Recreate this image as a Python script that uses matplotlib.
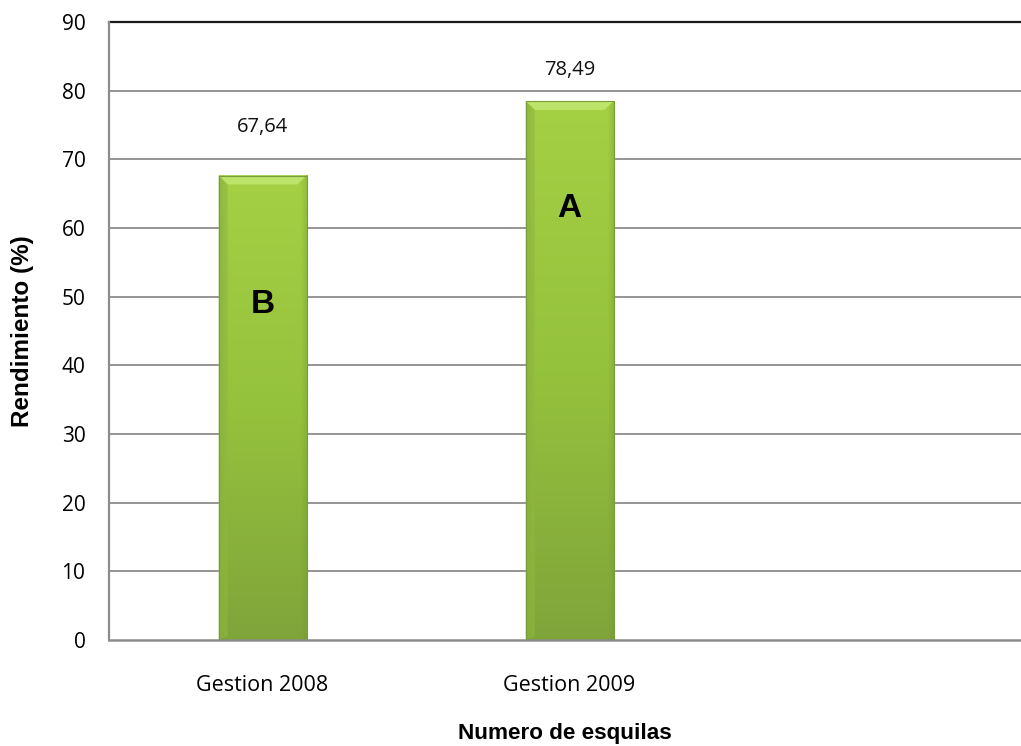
import numpy as np
import matplotlib.pyplot as plt
from matplotlib.patches import Polygon, Rectangle
from matplotlib.colors import to_rgb

categories = ["Gestion 2008", "Gestion 2009", ""]
values = [67.64, 78.49]
value_labels = ["67,64", "78,49"]
group_letters = ["B", "A"]

W, H, DPI = 1021, 746, 100
fig = plt.figure(figsize=(W / DPI, H / DPI), dpi=DPI)
ax = fig.add_axes([109 / W, (H - 640) / H, 1 - 109 / W, (640 - 22) / H])

tick_font = "Open Sans"
title_font = "Liberation Sans"

ax.set_xlim(-0.5, 2.47)
ax.set_ylim(0, 90)
ax.set_yticks(np.arange(0, 91, 10))
ax.set_xticks(range(len(categories)))
ax.set_xticklabels(categories, fontsize=15.5, fontfamily=tick_font)
ax.tick_params(axis="y", length=0, pad=17, labelsize=15)
ax.tick_params(axis="x", length=0, pad=25)
for lab in ax.get_yticklabels():
    lab.set_fontfamily(tick_font)

# horizontal gridlines; the top one is drawn darker
for yv in range(10, 90, 10):
    ax.axhline(yv, color="#8c8c8c", lw=1.3, zorder=0)
ax.axhline(90, color="#1a1a1a", lw=1.6, zorder=0, clip_on=False)

for side in ["top", "right"]:
    ax.spines[side].set_visible(False)
ax.spines["left"].set_color("#8c8c8c")
ax.spines["left"].set_linewidth(1.6)
ax.spines["bottom"].set_color("#8c8c8c")
ax.spines["bottom"].set_linewidth(1.8)

bar_w = 88 / 307
top_c = np.array(to_rgb("#a4d044"))
mid_c = np.array(to_rgb("#95c23d"))
bot_c = np.array(to_rgb("#7fa53a"))
edge_dark = np.array(to_rgb("#6f9330"))

label_offsets = [7.0, 4.5]
letter_offsets = [-18.8, -15.6]

for i, v in enumerate(values):
    x0, x1 = i - bar_w / 2, i + bar_w / 2
    # shaded body: vertical gradient with darker sides
    ny, nx = 200, 60
    t = np.linspace(0, 1, ny)[:, None, None]  # 0 at bottom, 1 at top
    lower = bot_c * (1 - 2 * t) + mid_c * (2 * t)
    upper = mid_c * (2 - 2 * t) + top_c * (2 * t - 1)
    grad = np.where(t < 0.5, lower, upper)
    s = np.linspace(-1, 1, nx)[None, :, None]
    side = np.clip((np.abs(s) - 0.85) / 0.15, 0, 1)
    img = grad * (1 - 0.35 * side) + edge_dark * 0.35 * side
    img = np.broadcast_to(img, (ny, nx, 3))
    ax.imshow(img, extent=[x0, x1, 0, v], origin="lower", aspect="auto",
              zorder=2, interpolation="bilinear")
    # bevelled top edge
    bev_h = 1.3
    bev_w = 0.03
    ax.add_patch(Polygon([[x0, v], [x1, v], [x1 - bev_w, v - bev_h],
                          [x0 + bev_w, v - bev_h]], closed=True,
                         facecolor="#bce46a", edgecolor="none", zorder=3))
    ax.add_patch(Polygon([[x0, v], [x0 + bev_w, v - bev_h], [x0 + bev_w, 0.5], [x0, 0]],
                         closed=True, facecolor="#8fb83f", edgecolor="none",
                         alpha=0.6, zorder=3))
    ax.add_patch(Rectangle((x0, 0), x1 - x0, v, facecolor="none",
                           edgecolor="#7a9c3a", lw=0.8, zorder=4))
    ax.text(i, v + label_offsets[i], value_labels[i], ha="center", va="center",
            fontsize=14.5, fontfamily=tick_font, color="#111111")
    ax.text(i, v + letter_offsets[i], group_letters[i], ha="center", va="center",
            fontsize=24, fontweight="bold", fontfamily=title_font, color="black",
            zorder=5)

ax.set_xlabel("Numero de esquilas", fontsize=16.2, fontweight="bold",
              fontfamily=title_font, labelpad=20)
ax.set_ylabel("Rendimiento (%)", fontsize=17.5, fontweight="bold",
              fontfamily=title_font, labelpad=20)

fig.savefig("out.png", dpi=DPI)
